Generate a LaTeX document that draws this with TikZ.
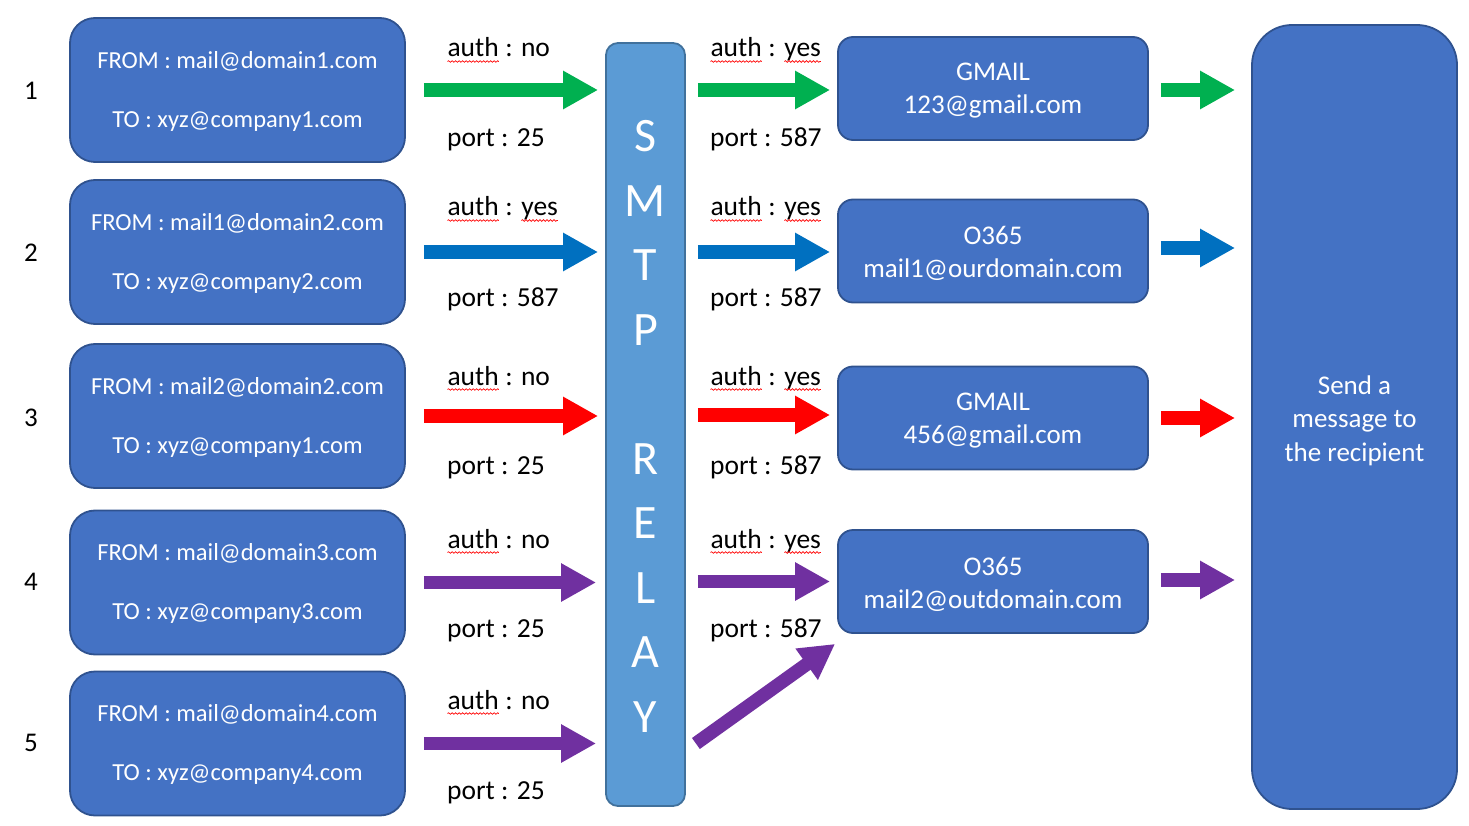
\documentclass[tikz,border=0pt]{standalone}
\usepackage{fontspec}
\setmainfont{Carlito}
\usetikzlibrary{arrows.meta,decorations.pathmorphing}
\definecolor{boxfill}{HTML}{4472C4}
\definecolor{boxline}{HTML}{2F528F}
\definecolor{relayfill}{HTML}{5B9BD5}
\definecolor{relayline}{HTML}{41719C}
\definecolor{agreen}{HTML}{00B050}
\definecolor{ablue}{HTML}{0070C0}
\definecolor{ared}{HTML}{FF0000}
\definecolor{apurple}{HTML}{7030A0}
\newcommand\redwave[1]{\tikz[baseline=(w.base)]{\node[inner sep=0pt, outer sep=0pt, anchor=base] (w) {#1};
  \draw[red, line width=0.7pt, decorate, decoration={snake, amplitude=0.8pt, segment length=3.5pt}]
    ([yshift=-4.5pt]w.base west) -- ([yshift=-4.5pt]w.base east);}}
\begin{document}
\begin{tikzpicture}[x=1pt,y=-1pt,
  lbox/.style={draw=boxline, fill=boxfill, line width=1.8pt, rounded corners=25pt,
    minimum width=335pt, minimum height=144pt, inner sep=0pt},
  ltext/.style={text=white, align=center, font=\fontsize{24.5}{59}\selectfont, inner sep=0pt},
  rbox/.style={draw=boxline, fill=boxfill, line width=1.8pt, rounded corners=15pt,
    minimum width=310pt, minimum height=103pt, inner sep=0pt},
  rtext/.style={text=white, align=center, font=\fontsize{27}{33}\selectfont, inner sep=0pt},
  bigbox/.style={draw=boxline, fill=boxfill, line width=1.8pt, rounded corners=40pt,
    minimum width=205pt, minimum height=784pt, inner sep=0pt},
  bigtext/.style={text=white, align=center, font=\fontsize{27}{33.5}\selectfont, inner sep=0pt},
  relaybox/.style={draw=relayline, fill=relayfill, line width=1.8pt, rounded corners=12pt,
    minimum width=79pt, minimum height=763pt, inner sep=0pt},
  relaytext/.style={text=white, align=center, font=\fontsize{48}{64.5}\selectfont, inner sep=0pt},
  num/.style={font=\fontsize{27}{33}\selectfont, inner sep=0pt},
  lab/.style={anchor=base west, inner sep=0pt, font=\fontsize{27.5}{33}\selectfont},
  fat/.style={line width=13.5pt, -{Triangle[width=36pt,length=35pt]}},
]
\useasboundingbox (0,0) rectangle (1469,826);

% row numbers
\node[num] (n1) at (31,90.5) {1};
\node[num] (n2) at (31,252.5) {2};
\node[num] (n3) at (31,417.5) {3};
\node[num] (n4) at (31,581.5) {4};
\node[num] (n5) at (31,742.5) {5};

% left boxes
\node[lbox] (b1) at (237.5,90) {};
\node[lbox] (b2) at (237.5,252) {};
\node[lbox] (b3) at (237.5,416) {};
\node[lbox] (b4) at (237.5,582.5) {};
\node[lbox] (b5) at (237.5,743.5) {};
\node[ltext] (t1) at ([yshift=-1pt]b1.center) {FROM : mail@domain1.com\\TO : xyz@company1.com};
\node[ltext] (t2) at ([yshift=-1pt]b2.center) {FROM : mail1@domain2.com\\TO : xyz@company2.com};
\node[ltext] (t3) at ([yshift=-1pt]b3.center) {FROM : mail2@domain2.com\\TO : xyz@company1.com};
\node[ltext] (t4) at ([yshift=-1pt]b4.center) {FROM : mail@domain3.com\\TO : xyz@company3.com};
\node[ltext] (t5) at ([yshift=-1pt]b5.center) {FROM : mail@domain4.com\\TO : xyz@company4.com};

% relay
\node[relaybox] (relay) at (645.5,424.5) {};
\node[relaytext] (relaylbl) at ([yshift=-2pt]relay.center) {S\\M\\T\\P\\[64.5pt]R\\E\\L\\A\\Y};

% right boxes
\node[rbox] (g1) at (993,88.5) {};
\node[rbox] (o1) at (993,251) {};
\node[rbox] (g2) at (993,418) {};
\node[rbox] (o2) at (993,581.5) {};
\node[rtext] (tg1) at ([yshift=-2.5pt]g1.center) {GMAIL\\123@gmail.com};
\node[rtext] (to1) at ([yshift=-2.5pt]o1.center) {O365\\mail1@ourdomain.com};
\node[rtext] (tg2) at ([yshift=-2.5pt]g2.center) {GMAIL\\456@gmail.com};
\node[rtext] (to2) at ([yshift=-2.5pt]o2.center) {O365\\mail2@outdomain.com};

% big box
\node[bigbox] (big) at (1354.5,417) {};
\node[bigtext] (bigt) at ([yshift=-3.5pt]big.center) {Send a\\message to\\the recipient};

% labels left
\node[lab] (la1) at (447,57) {\redwave{auth} : no};
\node[lab] (lp1) at (447,147) {port : 25};
\node[lab] (la2) at (447,216) {\redwave{auth} : \redwave{yes}};
\node[lab] (lp2) at (447,306) {port : 587};
\node[lab] (la3) at (447,385) {\redwave{auth} : no};
\node[lab] (lp3) at (447,474) {port : 25};
\node[lab] (la4) at (447,548) {\redwave{auth} : no};
\node[lab] (lp4) at (447,637) {port : 25};
\node[lab] (la5) at (447,709) {\redwave{auth} : no};
\node[lab] (lp5) at (447,799) {port : 25};
% labels right
\node[lab] (ra1) at (710,57) {\redwave{auth} : \redwave{yes}};
\node[lab] (rp1) at (710,147) {port : 587};
\node[lab] (ra2) at (710,216) {\redwave{auth} : \redwave{yes}};
\node[lab] (rp2) at (710,306) {port : 587};
\node[lab] (ra3) at (710,385) {\redwave{auth} : \redwave{yes}};
\node[lab] (rp3) at (710,474) {port : 587};
\node[lab] (ra4) at (710,548) {\redwave{auth} : \redwave{yes}};
\node[lab] (rp4) at (710,637) {port : 587};

% arrows: left boxes -> relay
\draw[fat, agreen, shorten <=18pt, shorten >=7pt] (b1.east) -- (b1.east -| relay.west);
\draw[fat, ablue, shorten <=18pt, shorten >=7pt] (b2.east) -- (b2.east -| relay.west);
\draw[fat, ared, shorten <=18pt, shorten >=7pt] (b3.east) -- (b3.east -| relay.west);
\draw[fat, apurple, shorten <=18pt, shorten >=9pt] (b4.east) -- (b4.east -| relay.west);
\draw[fat, apurple, shorten <=18pt, shorten >=9pt] (b5.east) -- (b5.east -| relay.west);

% arrows: relay -> right boxes
\draw[fat, agreen, shorten <=12pt, shorten >=7pt] ([yshift=-1.5pt]relay.east |- g1.west) -- ([yshift=-1.5pt]g1.west);
\draw[fat, ablue, shorten <=12pt, shorten >=7pt] ([yshift=-1pt]relay.east |- o1.west) -- ([yshift=-1pt]o1.west);
\draw[fat, ared, shorten <=12pt, shorten >=7pt] ([yshift=3pt]relay.east |- g2.west) -- ([yshift=3pt]g2.west);
\draw[fat, apurple, shorten <=12pt, shorten >=7pt] (relay.east |- o2.west) -- (o2.west);
\coordinate (d1) at ([xshift=10pt]relay.east |- b5.east);
\coordinate (d2) at ([xshift=-2pt,yshift=-10pt]o2.south west);
\draw[fat, apurple] (d1) -- (d2);

% arrows: right boxes -> big box
\draw[fat, agreen, shorten <=12pt, shorten >=16pt] ([yshift=-1.5pt]g1.east) -- ([yshift=-1.5pt]g1.east -| big.west);
\draw[fat, ablue, shorten <=12pt, shorten >=16pt] ([yshift=3pt]o1.east) -- ([yshift=3pt]o1.east -| big.west);
\draw[fat, ared, shorten <=12pt, shorten >=16pt] (g2.east) -- (g2.east -| big.west);
\draw[fat, apurple, shorten <=12pt, shorten >=16pt] ([yshift=1.5pt]o2.east) -- ([yshift=1.5pt]o2.east -| big.west);
\end{tikzpicture}
\end{document}
